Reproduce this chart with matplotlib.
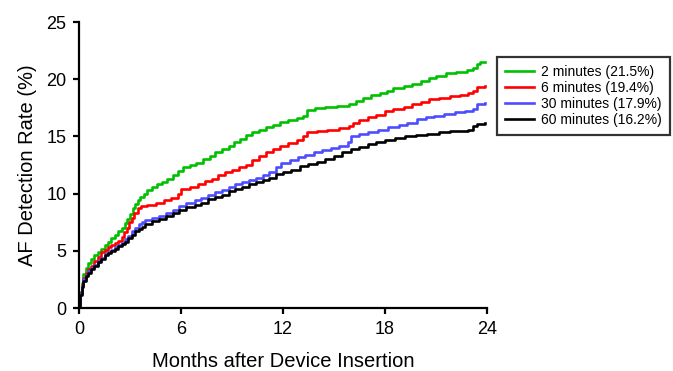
import matplotlib
matplotlib.use("Agg")
import matplotlib.pyplot as plt

plt.rcParams['font.family'] = ['Liberation Sans', 'DejaVu Sans']

# (months after insertion, detection rate %)
pts_2 = [(0, 0.5), (0.08, 1.4), (0.15, 2.2), (0.25, 3.0), (0.4, 3.5), (0.55, 3.9), (0.7, 4.3), (0.9, 4.6),
         (1.1, 4.9), (1.3, 5.2), (1.5, 5.5), (1.7, 5.8), (1.9, 6.1), (2.1, 6.4), (2.3, 6.7), (2.5, 7.0),
         (2.7, 7.4), (2.85, 7.8), (3.0, 8.2), (3.15, 8.7), (3.3, 9.1), (3.45, 9.4), (3.6, 9.7), (3.8, 10.0),
         (4.0, 10.3), (4.3, 10.6), (4.6, 10.8), (4.9, 11.0), (5.2, 11.3), (5.5, 11.6), (5.8, 12.0), (6.1, 12.3),
         (6.5, 12.5), (6.9, 12.7), (7.3, 13.0), (7.7, 13.3), (8.0, 13.6), (8.4, 13.9), (8.8, 14.2), (9.1, 14.5),
         (9.5, 14.8), (9.8, 15.1), (10.2, 15.4), (10.6, 15.6), (11.0, 15.8), (11.4, 16.0), (11.8, 16.3),
         (12.3, 16.4), (12.8, 16.6), (13.2, 16.8), (13.4, 17.3), (13.9, 17.5), (14.5, 17.6), (15.2, 17.7),
         (15.9, 17.8), (16.3, 18.1), (16.7, 18.4), (17.2, 18.6), (17.7, 18.8), (18.1, 19.0), (18.5, 19.2),
         (19.1, 19.4), (19.6, 19.6), (20.1, 19.8), (20.6, 20.1), (21.0, 20.3), (21.6, 20.5), (22.2, 20.6),
         (22.8, 20.8), (23.2, 21.0), (23.4, 21.3), (23.6, 21.5), (23.9, 21.5)]

pts_6 = [(0, 0.4), (0.08, 1.3), (0.15, 2.0), (0.25, 2.6), (0.4, 3.1), (0.55, 3.4), (0.7, 3.7), (0.9, 4.1),
         (1.1, 4.5), (1.3, 4.9), (1.5, 5.1), (1.7, 5.3), (1.9, 5.5), (2.1, 5.7), (2.3, 5.9), (2.5, 6.2),
         (2.65, 6.6), (2.8, 7.0), (2.95, 7.5), (3.1, 7.9), (3.25, 8.3), (3.45, 8.7), (3.65, 8.9), (4.0, 9.0),
         (4.5, 9.2), (5.0, 9.4), (5.4, 9.6), (5.8, 10.0), (6.0, 10.4), (6.5, 10.6), (7.0, 10.8), (7.4, 11.1),
         (7.8, 11.3), (8.2, 11.6), (8.6, 11.9), (9.0, 12.1), (9.4, 12.3), (9.8, 12.5), (10.2, 12.9), (10.6, 13.3),
         (11.0, 13.6), (11.4, 13.9), (11.8, 14.2), (12.3, 14.4), (12.8, 14.7), (13.2, 15.0), (13.4, 15.4),
         (14.0, 15.5), (14.6, 15.6), (15.3, 15.7), (15.9, 15.9), (16.1, 16.2), (16.5, 16.4), (17.0, 16.7),
         (17.5, 16.9), (18.0, 17.2), (18.5, 17.4), (19.1, 17.6), (19.6, 17.8), (20.1, 18.0), (20.6, 18.3),
         (21.2, 18.4), (21.8, 18.5), (22.4, 18.6), (22.9, 18.8), (23.2, 19.0), (23.4, 19.3), (23.9, 19.4)]

pts_30 = [(0, 0.3), (0.08, 1.2), (0.15, 1.9), (0.25, 2.5), (0.4, 2.9), (0.55, 3.2), (0.7, 3.5), (0.9, 3.8),
          (1.1, 4.1), (1.3, 4.4), (1.5, 4.7), (1.7, 4.9), (1.9, 5.1), (2.1, 5.3), (2.3, 5.5), (2.5, 5.7),
          (2.7, 6.0), (2.9, 6.3), (3.1, 6.7), (3.3, 7.0), (3.5, 7.3), (3.7, 7.5), (3.9, 7.7), (4.3, 7.9),
          (4.7, 8.0), (5.1, 8.3), (5.5, 8.6), (5.9, 8.9), (6.3, 9.2), (6.8, 9.4), (7.2, 9.6), (7.6, 9.9),
          (8.0, 10.1), (8.4, 10.3), (8.8, 10.6), (9.2, 10.8), (9.6, 11.0), (10.0, 11.2), (10.4, 11.4),
          (10.8, 11.6), (11.2, 11.9), (11.6, 12.3), (11.9, 12.7), (12.4, 12.9), (12.9, 13.2), (13.3, 13.4),
          (13.8, 13.6), (14.3, 13.8), (14.8, 14.0), (15.3, 14.2), (15.8, 14.5), (16.0, 15.0), (16.5, 15.2),
          (17.0, 15.4), (17.6, 15.6), (18.2, 15.8), (18.8, 16.0), (19.3, 16.2), (19.9, 16.5), (20.4, 16.7),
          (20.9, 16.8), (21.5, 17.0), (22.1, 17.1), (22.7, 17.2), (23.2, 17.4), (23.4, 17.8), (23.9, 17.9)]

pts_60 = [(0, 0.2), (0.08, 1.1), (0.15, 1.8), (0.25, 2.4), (0.4, 2.8), (0.55, 3.1), (0.7, 3.4), (0.9, 3.7),
          (1.1, 4.0), (1.3, 4.3), (1.5, 4.6), (1.7, 4.8), (1.9, 5.0), (2.1, 5.2), (2.3, 5.4), (2.5, 5.6),
          (2.7, 5.8), (2.9, 6.1), (3.1, 6.4), (3.3, 6.7), (3.5, 6.9), (3.7, 7.1), (3.9, 7.3), (4.3, 7.6),
          (4.7, 7.8), (5.1, 8.0), (5.5, 8.3), (5.9, 8.6), (6.3, 8.8), (6.8, 9.0), (7.2, 9.2), (7.6, 9.5),
          (8.0, 9.7), (8.4, 9.9), (8.8, 10.2), (9.2, 10.4), (9.6, 10.6), (10.0, 10.8), (10.4, 11.0),
          (10.8, 11.2), (11.2, 11.4), (11.6, 11.7), (12.0, 11.9), (12.5, 12.1), (13.0, 12.4), (13.5, 12.6),
          (14.0, 12.8), (14.5, 13.0), (15.0, 13.3), (15.5, 13.6), (16.0, 13.9), (16.5, 14.1), (17.0, 14.3),
          (17.5, 14.5), (18.0, 14.7), (18.6, 14.9), (19.2, 15.0), (19.8, 15.1), (20.5, 15.2), (21.2, 15.4),
          (21.8, 15.5), (22.4, 15.5), (22.9, 15.6), (23.2, 15.9), (23.4, 16.1), (23.9, 16.2)]

labels = ["2 minutes (21.5%)", "6 minutes (19.4%)", "30 minutes (17.9%)", "60 minutes (16.2%)"]
colors = ["#00c000", "#ff0000", "#4d4dff", "#000000"]

fig = plt.figure(figsize=(6.73, 3.71), dpi=100)
ax = fig.add_axes([0.1174, 0.1698, 0.6062, 0.7709])

for pts, lab, c in zip([pts_2, pts_6, pts_30, pts_60], labels, colors):
    m, v = zip(*pts)
    ax.plot(m, v, drawstyle='steps-post', color=c, lw=1.9, label=lab)

ax.set_xlim(0, 24)
ax.set_ylim(0, 25)
ax.set_xticks([0, 6, 12, 18, 24])
ax.set_yticks([0, 5, 10, 15, 20, 25])
ax.spines['top'].set_visible(False)
ax.spines['right'].set_visible(False)
for s in ['left', 'bottom']:
    ax.spines[s].set_linewidth(1.6)
ax.tick_params(width=1.6, length=4, labelsize=13, pad=5)
ax.set_xlabel("Months after Device Insertion", fontsize=14.5, labelpad=10.5)
ax.set_ylabel("AF Detection Rate (%)", fontsize=14.5, labelpad=7)

leg = ax.legend(loc='upper left', bbox_to_anchor=(1.0245, 0.8776), borderaxespad=0,
                fancybox=False, edgecolor='black', fontsize=10, handlelength=2.1,
                labelspacing=0.15, borderpad=0.55, handletextpad=0.55)
leg.get_frame().set_linewidth(1.6)

fig.savefig("out.png", dpi=100)
